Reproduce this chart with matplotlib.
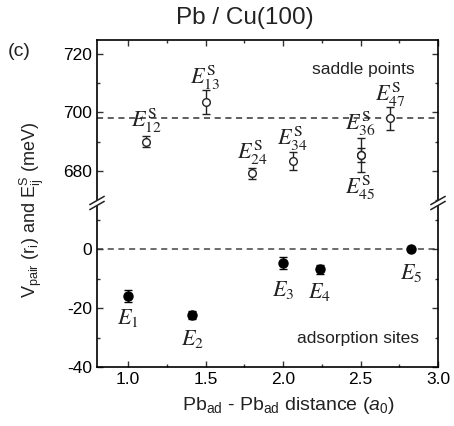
import matplotlib
matplotlib.use("Agg")
import matplotlib.pyplot as plt
from matplotlib.ticker import MultipleLocator
from matplotlib.lines import Line2D
from matplotlib.patches import Polygon

plt.rcParams['font.family'] = ['Liberation Sans', 'DejaVu Sans']
plt.rcParams['mathtext.fontset'] = 'custom'
plt.rcParams['mathtext.rm'] = 'Liberation Sans'
plt.rcParams['mathtext.it'] = 'Liberation Sans:italic'
plt.rcParams['mathtext.bf'] = 'Liberation Sans:bold'

# Adsorption-site pair energies (meV) vs. Pb-Pb distance (a0)
site_names = ["1", "2", "3", "4", "5"]
site_r = [1.0, 1.414, 2.0, 2.236, 2.828]
site_E = [-16.0, -22.4, -4.8, -6.9, 0.0]
site_err = [2.0, 1.3, 2.0, 1.5, 0.3]

# Saddle-point energies (meV)
saddle_names = ["12", "13", "24", "34", "36", "45", "47"]
saddle_r = [1.118, 1.5, 1.803, 2.062, 2.5, 2.5, 2.693]
saddle_E = [690.0, 703.6, 679.2, 683.4, 685.5, 685.5, 698.0]
saddle_err = [1.8, 4.0, 1.8, 3.0, 5.7, 2.3, 3.9]

saddle_ref = 698.0
site_ref = 0.0

fig = plt.figure(figsize=(4.54, 4.26), dpi=100)
W, H = 454.0, 426.0
left, right = 97 / W, 438 / W
y_top, y_brk, y_bot = 40.0, 203.0, 367.0
ax_t = fig.add_axes([left, 1 - y_brk / H, right - left, (y_brk - y_top) / H])
ax_b = fig.add_axes([left, 1 - y_bot / H, right - left, (y_bot - y_brk) / H])

ax_t.set_ylim(669.1, 724.7)
ax_b.set_ylim(-40, 15.6)
for ax in (ax_t, ax_b):
    ax.set_xlim(0.8, 3.0)
    ax.xaxis.set_major_locator(MultipleLocator(0.5))
    ax.xaxis.set_minor_locator(MultipleLocator(0.25))
    ax.yaxis.set_major_locator(MultipleLocator(20))
    ax.yaxis.set_minor_locator(MultipleLocator(10))
    ax.tick_params(which='both', direction='in', left=True, right=True,
                   labelsize=12.5, width=1.0, color='#333333')
    ax.tick_params(which='major', length=4)
    ax.tick_params(which='minor', length=2.5)
    for s in ax.spines.values():
        s.set_linewidth(1.2)

ax_t.spines['bottom'].set_visible(False)
ax_b.spines['top'].set_visible(False)
ax_t.tick_params(which='both', bottom=False, labelbottom=False, top=True)
ax_b.tick_params(which='both', top=False, bottom=True)
ax_b.set_xticks([1.0, 1.5, 2.0, 2.5, 3.0])
ax_b.set_xticklabels(["1.0", "1.5", "2.0", "2.5", "3.0"])
ax_t.set_yticks([680, 700, 720])
ax_b.set_yticks([-40, -20, 0])
ax_b.set_yticklabels(["-40", "-20", "0"])

# reference lines
ax_t.axhline(saddle_ref, color='#333333', ls=(0, (4, 3)), lw=1.1, zorder=1)
ax_b.axhline(site_ref, color='#444444', ls=(0, (4, 3)), lw=1.1, zorder=1)

# data
ax_t.errorbar(saddle_r, saddle_E, yerr=saddle_err, fmt='o', ms=5.5,
              mfc='white', mec='#222222', mew=1.0, ecolor='#222222',
              elinewidth=1.0, capsize=3, capthick=1.0, zorder=3)
ax_b.errorbar(site_r, site_E, yerr=site_err, fmt='o', ms=6.5,
              mfc='black', mec='black', ecolor='black',
              elinewidth=1.0, capsize=3, capthick=1.0, zorder=3)

lab_kw = dict(textcoords='offset points', ha='center', va='center',
              fontsize=16, math_fontfamily='stix', color='#222222')
saddle_off = [(0, 15), (0, 17), (0, 15), (0, 16), (0, 22), (0, -24), (0, 17)]
for name, x, y, off in zip(saddle_names, saddle_r, saddle_E, saddle_off):
    ax_t.annotate(r"$E^{\rm S}_{%s}$" % name, (x, y), xytext=off, **lab_kw)
site_off = [(0, -16), (0, -17), (0, -19), (0, -16), (0, -17)]
for name, x, y, off in zip(site_names, site_r, site_E, site_off):
    ax_b.annotate(r"$E_{%s}$" % name, (x, y), xytext=off, **lab_kw)

ax_t.text(0.93, 0.82, "saddle points", transform=ax_t.transAxes,
          ha='right', va='center', fontsize=12.5, color='#222222')
ax_b.text(0.945, 0.175, "adsorption sites", transform=ax_b.transAxes,
          ha='right', va='center', fontsize=12.5, color='#222222')

# axis break marks on both spines
for xs in (left, right):
    x0 = xs
    dx, dy = 7 / W, 4 / H
    gap = 5 / H
    yc = 1 - y_brk / H
    poly = Polygon([(x0 - dx, yc - gap / 2 - dy), (x0 + dx, yc - gap / 2 + dy),
                    (x0 + dx, yc + gap / 2 + dy), (x0 - dx, yc + gap / 2 - dy)],
                   closed=True, transform=fig.transFigure, facecolor='white',
                   edgecolor='none', zorder=10, clip_on=False)
    fig.add_artist(poly)
    for off in (-gap / 2, gap / 2):
        fig.add_artist(Line2D([x0 - dx, x0 + dx], [yc + off - dy, yc + off + dy],
                              transform=fig.transFigure, color='#222222',
                              lw=1.1, zorder=11))

fig.text(245 / W, 1 - 18 / H, "Pb / Cu(100)", ha='center', va='center',
         fontsize=17.5, color='#222222')
fig.text(8 / W, 1 - 52 / H, "(c)", ha='left', va='center', fontsize=14,
         color='#222222')
fig.text(32 / W, 1 - 210 / H,
         r"V$_{\rm pair}$ (r$_{\rm i}$) and E$^{\rm S}_{\rm ij}$ (meV)",
         rotation=90, ha='center', va='center', fontsize=13, color='#222222')
fig.text(288 / W, 1 - 406 / H,
         r"Pb$_{\rm ad}$ - Pb$_{\rm ad}$ distance ($\it{a}_{\rm 0}$)",
         ha='center', va='center', fontsize=14, color='#222222')

fig.savefig("out.png", dpi=100)
